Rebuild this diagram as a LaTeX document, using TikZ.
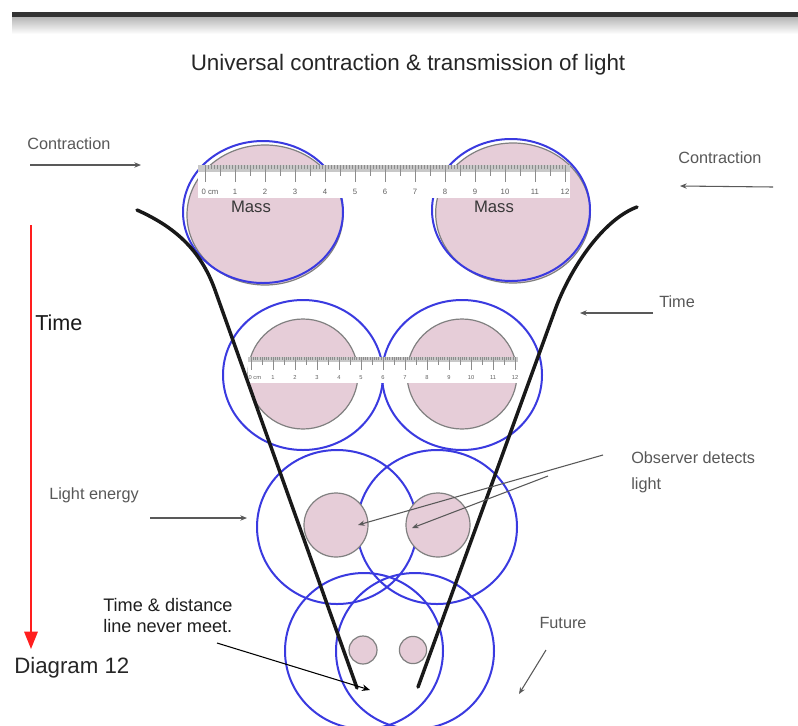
\documentclass[tikz,border=0pt]{standalone}
\usepackage{fontspec}
\setmainfont{Liberation Sans}
\usetikzlibrary{arrows.meta}
\definecolor{cblue}{HTML}{3A3AE0}
\definecolor{cpink}{HTML}{E6CDD8}
\definecolor{cgrayline}{HTML}{808080}
\definecolor{clabel}{HTML}{585858}
\definecolor{cred}{HTML}{FF1E1E}
\definecolor{cstrip}{HTML}{C8C8C8}
\definecolor{ctick}{HTML}{8C8C8C}
\definecolor{cnum}{HTML}{606060}

% ruler: left, top, right, bottom, zero-x, spacing, strip height, font size, name prefix
\newcommand\drawruler[9]{%
  \fill[white] (#1,#2) rectangle (#3,#4);
  \fill[cstrip] (#1,#2) rectangle (#3,#2+#7);
  \foreach \j in {0,...,120}{%
    \draw[ctick,line width=0.25pt] (#5+#6*\j/10,#2) -- (#5+#6*\j/10,#2+0.55*#7);
  }
  \foreach \j in {0,...,11}{%
    \draw[ctick,line width=0.4pt] (#5+#6*\j+#6/2,#2) -- (#5+#6*\j+#6/2,#2+#7+0.12*#4-0.12*#2);
  }
  \foreach \i in {0,...,12}{%
    \draw[ctick,line width=0.5pt] (#5+#6*\i,#2) -- (#5+#6*\i,#2+#7+0.3*#4-0.3*#2);
    \ifnum\i=0
      \node[font=\fontsize{#8}{#8}\selectfont,text=cnum,inner sep=0pt,anchor=west] (#9\i) at (#5-#6*0.12,#4-0.2*#4+0.2*#2) {0 cm};
    \else
      \node[font=\fontsize{#8}{#8}\selectfont,text=cnum,inner sep=0pt] (#9\i) at (#5+#6*\i,#4-0.2*#4+0.2*#2) {\i};
    \fi
  }
}

\begin{document}
\begin{tikzpicture}[x=0.75pt,y=-0.75pt,
  bluec/.style={draw=cblue,line width=1.5pt},
  pinkc/.style={fill=cpink,draw=cgrayline,line width=0.9pt},
  funnel/.style={line width=2.6pt,black!90,line cap=round},
  glabel/.style={font=\fontsize{12.2}{20}\selectfont,text=clabel,inner sep=0pt},
  garrow/.style={draw=black!65,line width=0.8pt,-{Stealth[length=5pt,width=4pt]}},
  barrow/.style={draw=black,line width=0.8pt,-{Stealth[length=6pt,width=5pt]}},
]
\useasboundingbox (0,0) rectangle (798,725);
\fill[white] (0,0) rectangle (798,725);

% top bar
\shade[top color=black!30,bottom color=white] (12,16) rectangle (798,34);
\fill[black!80] (12,12) rectangle (798,16.5);

% title
\node[font=\fontsize{16.8}{20}\selectfont,text=black!85,inner sep=0pt] (title) at (408,65) {Universal contraction \& transmission of light};

% row 1 masses
\draw[pinkc] (265,215) ellipse [x radius=58.5pt,y radius=52.5pt];
\draw[bluec] (263,212) ellipse [x radius=60pt,y radius=53.25pt];
\draw[pinkc] (513,213) ellipse [x radius=58pt,y radius=52.5pt];
\draw[bluec] (511,210) ellipse [x radius=59.25pt,y radius=53.25pt];

% row 2
\draw[bluec] (303,375) ellipse [x radius=60pt,y radius=56.25pt];
\draw[bluec] (462,375) ellipse [x radius=60pt,y radius=56.25pt];
\draw[pinkc] (303,374) circle [radius=41.25pt];
\draw[pinkc] (462,374) circle [radius=41.25pt];

% row 3
\draw[bluec] (337,527) ellipse [x radius=60pt,y radius=57.75pt];
\draw[bluec] (437,527) ellipse [x radius=60pt,y radius=57.75pt];
\draw[pinkc] (336,525) circle [radius=24pt];
\draw[pinkc] (438,525) circle [radius=24pt];

% row 4
\draw[bluec] (364,651) ellipse [x radius=59.25pt,y radius=58.5pt];
\draw[bluec] (415,651) ellipse [x radius=59.25pt,y radius=58.5pt];
\draw[pinkc] (363,650) circle [radius=10.5pt];
\draw[pinkc] (413,650) circle [radius=10.2pt];

% rulers
\drawruler{198}{165}{570}{198}{205}{30}{7}{5.8}{ra}
\drawruler{248}{357}{518}{383}{251}{22}{5}{4.3}{rb}

% mass labels
\node[font=\fontsize{12.5}{14}\selectfont,text=black!78,inner sep=0pt] (massL) at (251,207) {Mass};
\node[font=\fontsize{12.5}{14}\selectfont,text=black!78,inner sep=0pt] (massR) at (494,207) {Mass};

% funnel lines
\draw[funnel] (137,210) .. controls (175,227) and (200.7,250) .. (215,290) -- (357,688);
\draw[funnel] (637,207) .. controls (602,220) and (569.5,270) .. (555,310) -- (418,687);

% red time arrow
\coordinate (rA) at (31,225);
\coordinate (rB) at (31,649);
\draw[cred,line width=1.6pt,-{Triangle[length=13pt,width=10pt]}] (rA) -- (rB);
\node[font=\fontsize{16.2}{18}\selectfont,text=black!90,inner sep=0pt,anchor=west] (timeL) at (35,323) {Time};
\node[font=\fontsize{16.7}{18}\selectfont,text=black!85,inner sep=0pt,anchor=west] (diag) at (14,668) {Diagram 12};

% labels and arrows
\node[glabel,anchor=west] (contrL) at (27,144) {Contraction};
\coordinate (cLa) at (30,165);
\coordinate (cLb) at (141,165);
\draw[garrow] (cLa) -- (cLb);

\node[glabel,anchor=west] (contrR) at (678,158) {Contraction};
\coordinate (cRa) at (773,187);
\coordinate (cRb) at (680,186);
\draw[garrow] (cRa) -- (cRb);

\node[glabel,anchor=west] (timeR) at (659,302) {Time};
\coordinate (tRa) at (653,313);
\coordinate (tRb) at (580,313);
\draw[garrow] (tRa) -- (tRb);

\node[glabel,anchor=west] (light) at (49,495) {Light energy};
\coordinate (lEa) at (150,518);
\coordinate (lEb) at (247,518);
\draw[garrow] (lEa) -- (lEb);

\node[glabel,anchor=north west,align=left] (obs) at (631,451) {Observer detects\\light};
\coordinate (oA) at (603,455);
\coordinate (oB) at (358,525);
\coordinate (oC) at (548,476);
\coordinate (oD) at (412,528);
\draw[garrow] (oA) -- (oB);
\draw[garrow] (oC) -- (oD);

\node[font=\fontsize{13.6}{15.8}\selectfont,text=black!88,inner sep=0pt,anchor=north west,align=left] (never) at (103,598) {Time \& distance\\line never meet.};
\coordinate (nA) at (217,643);
\coordinate (nB) at (370,690);
\draw[barrow] (nA) -- (nB);

\node[glabel] (future) at (563,623) {Future};
\coordinate (fA) at (546,650);
\coordinate (fB) at (519,694);
\draw[garrow] (fA) -- (fB);
\end{tikzpicture}
\end{document}
